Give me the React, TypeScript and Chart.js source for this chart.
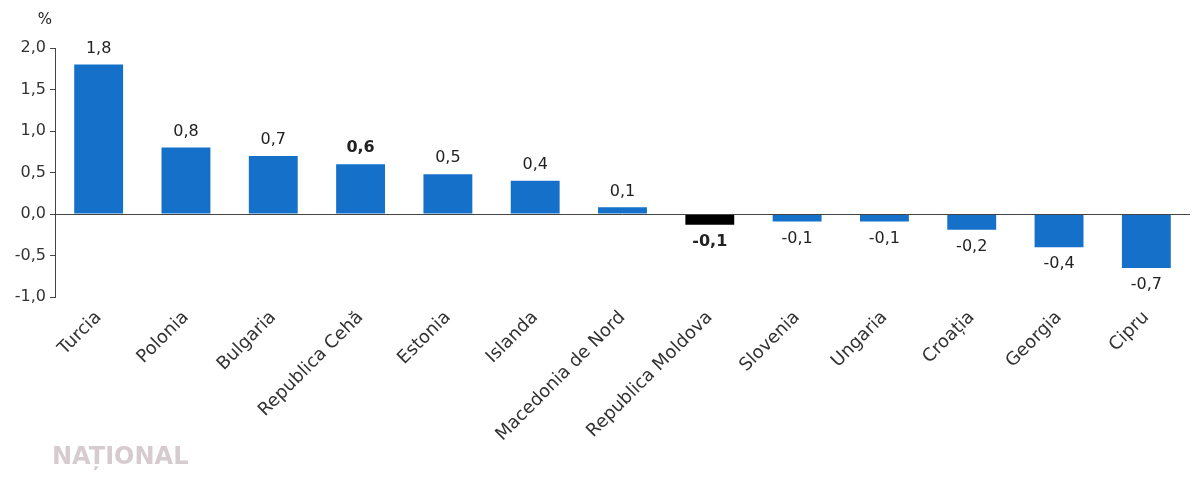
import React, { useEffect, useRef } from "react";
import { Chart, registerables } from "chart.js";
Chart.register(...registerables);

const categories = ["Turcia","Polonia","Bulgaria","Republica Cehă","Estonia","Islanda","Macedonia de Nord","Republica Moldova","Slovenia","Ungaria","Croația","Georgia","Cipru"];
const values = [1.8,0.8,0.7,0.6,0.48,0.4,0.08,-0.13,-0.09,-0.09,-0.19,-0.4,-0.65];
const valueLabels = ["1,8","0,8","0,7","0,6","0,5","0,4","0,1","-0,1","-0,1","-0,1","-0,2","-0,4","-0,7"];
const highlighted = ["Republica Cehă","Republica Moldova"];
const dark = ["Republica Moldova"];

const FONT = "'DejaVu Sans', sans-serif";

export default function App() {
  const ref = useRef<HTMLCanvasElement>(null);
  useEffect(() => {
    document.body.style.margin = "0";
    const labelPlugin = {
      id: "vals",
      afterDatasetsDraw(chart: any) {
        const { ctx, chartArea } = chart;
        const meta = chart.getDatasetMeta(0);
        const y = chart.scales.y;
        ctx.save();
        ctx.strokeStyle = "#444";
        ctx.lineWidth = 1;
        ctx.beginPath();
        const y0 = Math.round(y.getPixelForValue(0)) + 0.5;
        ctx.moveTo(chartArea.left, y0);
        ctx.lineTo(chartArea.right, y0);
        ctx.stroke();
        ctx.textAlign = "center";
        meta.data.forEach((bar: any, i: number) => {
          const bold = highlighted.includes(categories[i]);
          ctx.font = `${bold ? "bold " : ""}16px ${FONT}`;
          ctx.fillStyle = "#222";
          if (values[i] >= 0) {
            ctx.textBaseline = "bottom";
            ctx.fillText(valueLabels[i], bar.x, bar.y - 8);
          } else {
            ctx.textBaseline = "top";
            ctx.fillText(valueLabels[i], bar.x, bar.y + 9);
          }
        });
        ctx.font = `15px ${FONT}`;
        ctx.textBaseline = "bottom";
        ctx.fillText("%", 45, 28);
        ctx.restore();
      },
    };
    const chart = new Chart(ref.current!, {
      type: "bar",
      data: {
        labels: categories,
        datasets: [{
          data: values,
          backgroundColor: categories.map((c) => (dark.includes(c) ? "#000000" : "#1470C8")),
          barPercentage: 0.56,
          categoryPercentage: 1,
        }],
      },
      options: {
        animation: false,
        responsive: false,
        layout: { padding: { top: 48, right: 10, left: 0, bottom: 0 } },
        plugins: { legend: { display: false }, tooltip: { enabled: false } },
        scales: {
          x: {
            grid: { display: false },
            border: { display: false },
            ticks: { minRotation: 45, maxRotation: 45, color: "#333", font: { size: 18, family: FONT }, padding: 2 },
            afterFit: (s: any) => { s.height = 181; },
          },
          y: {
            min: -1, max: 2,
            grid: { drawOnChartArea: false, tickLength: 5, color: "#444" },
            border: { display: true, color: "#444" },
            ticks: { stepSize: 0.5, color: "#333", font: { size: 16, family: FONT }, padding: 4,
              callback: (v: any) => Number(v).toFixed(1).replace(".", ",") },
            afterFit: (s: any) => { s.width = 55; },
          },
        },
      },
      plugins: [labelPlugin],
    });
    return () => chart.destroy();
  }, []);
  return (
    <div style={{ position: "relative", width: 1200, height: 478, background: "#fff" }}>
      <canvas ref={ref} width={1200} height={478} />
      <div style={{ position: "absolute", left: 52, top: 442, fontFamily: FONT, fontWeight: "bold", fontSize: 24, color: "rgba(180,160,165,0.55)" }}>NAȚIONAL</div>
    </div>
  );
}
